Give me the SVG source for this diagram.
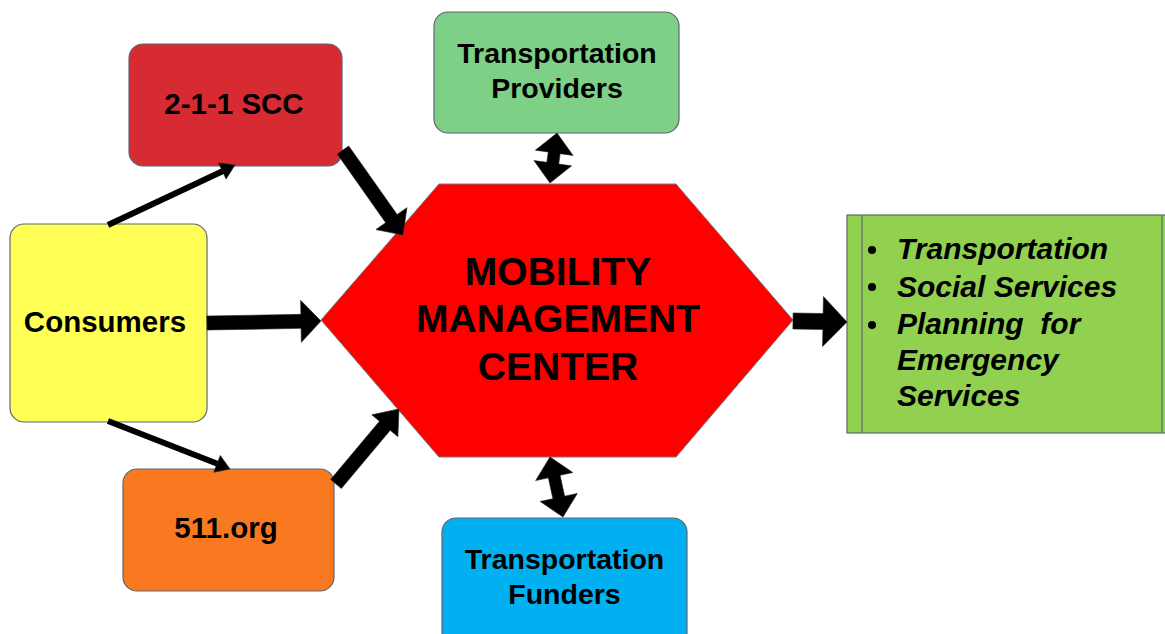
<svg xmlns="http://www.w3.org/2000/svg" width="1165" height="634" viewBox="0 0 1165 634">
<style>
.box{stroke:#5f6672;stroke-width:1.2}
.lbl{font-family:"Liberation Sans",Arial,sans-serif;font-weight:bold;font-size:29.5px;fill:#000;text-anchor:middle}
.tp{font-size:28.5px}
.big{font-size:39px}
.lst{font-family:"Liberation Sans",Arial,sans-serif;font-weight:bold;font-style:italic;font-size:30px;fill:#000}
.arr{fill:#000;stroke:#222;stroke-width:0.6}
.thin{stroke:#000;stroke-width:6;fill:none}
</style>
<rect width="1165" height="634" fill="#fff"/>
<g id="consumers">
<rect class="box" x="10" y="224" width="197" height="198" rx="14" fill="#FFFF55"/>
<text class="lbl" x="105" y="332">Consumers</text>
</g>
<g id="scc211">
<rect class="box" x="129" y="44" width="213" height="122" rx="14" fill="#D62B33"/>
<text class="lbl" x="234" y="114">2-1-1 SCC</text>
</g>
<g id="org511">
<rect class="box" x="123" y="469" width="211" height="122" rx="14" fill="#F97920"/>
<text class="lbl" x="226" y="538">511.org</text>
</g>
<g id="providers">
<rect class="box" x="434" y="12" width="245" height="121" rx="14" fill="#7DD085"/>
<text class="lbl tp" x="557" y="63">Transportation</text>
<text class="lbl tp" x="557" y="98">Providers</text>
</g>
<g id="funders">
<rect class="box" x="442" y="518" width="245" height="130" rx="14" fill="#00B0F0"/>
<text class="lbl tp" x="564.5" y="569">Transportation</text>
<text class="lbl tp" x="564.5" y="604">Funders</text>
</g>
<g id="mmc">
<polygon points="321,320 439,184 676,184 793,320 676,457 439,457" fill="#FF0000" stroke="#7a7a7a" stroke-width="1"/>
<text class="lbl big" x="558" y="285">MOBILITY</text>
<text class="lbl big" x="558" y="332">MANAGEMENT</text>
<text class="lbl big" x="558" y="380">CENTER</text>
</g>
<g id="services">
<rect class="box" x="847" y="215" width="330" height="218" fill="#92D050"/>
<line class="box" x1="862" y1="215" x2="862" y2="433"/>
<line class="box" x1="1162" y1="215" x2="1162" y2="433"/>
<circle cx="872" cy="250" r="4" fill="#000"/>
<circle cx="872" cy="287" r="4" fill="#000"/>
<circle cx="872" cy="325" r="4" fill="#000"/>
<text class="lst" x="897" y="259">Transportation</text>
<text class="lst" x="897" y="297">Social Services</text>
<text class="lst" x="897" y="334" xml:space="preserve">Planning  for</text>
<text class="lst" x="897" y="370">Emergency</text>
<text class="lst" x="897" y="406">Services</text>
</g>
<g id="connectors">
<line class="thin" x1="108" y1="225" x2="223" y2="171"/>
<polygon class="arr" points="235,165 226.1,179.1 218.5,162.9"/>
<line class="thin" x1="108" y1="421" x2="218" y2="464"/>
<polygon class="arr" points="230,469 213.7,472.3 220.3,455.5"/>
<polygon class="arr" transform="translate(343,150) rotate(54.8)" points="0,-7 84,-7 84,-19 104,0 84,19 84,7 0,7"/>
<polygon class="arr" transform="translate(336,484) rotate(-50)" points="0,-7 76,-7 76,-17 98,0 76,17 76,7 0,7"/>
<polygon class="arr" transform="translate(207,323) rotate(-1)" points="0,-7 94,-7 94,-21 114,0 94,21 94,7 0,7"/>
<polygon class="arr" transform="translate(793,321) rotate(1)" points="0,-8 30,-8 30,-25 54,0 30,25 30,8 0,8"/>
<polygon class="arr" transform="translate(557,133) rotate(98)" points="0,0 20,-19 20,-6 30.5,-6 30.5,-19 50.5,0 30.5,19 30.5,6 20,6 20,19"/>
<polygon class="arr" transform="translate(550,457) rotate(77.8)" points="0,0 20,-19 20,-6 41.4,-6 41.4,-19 61.4,0 41.4,19 41.4,6 20,6 20,19"/>
</g>
</svg>
